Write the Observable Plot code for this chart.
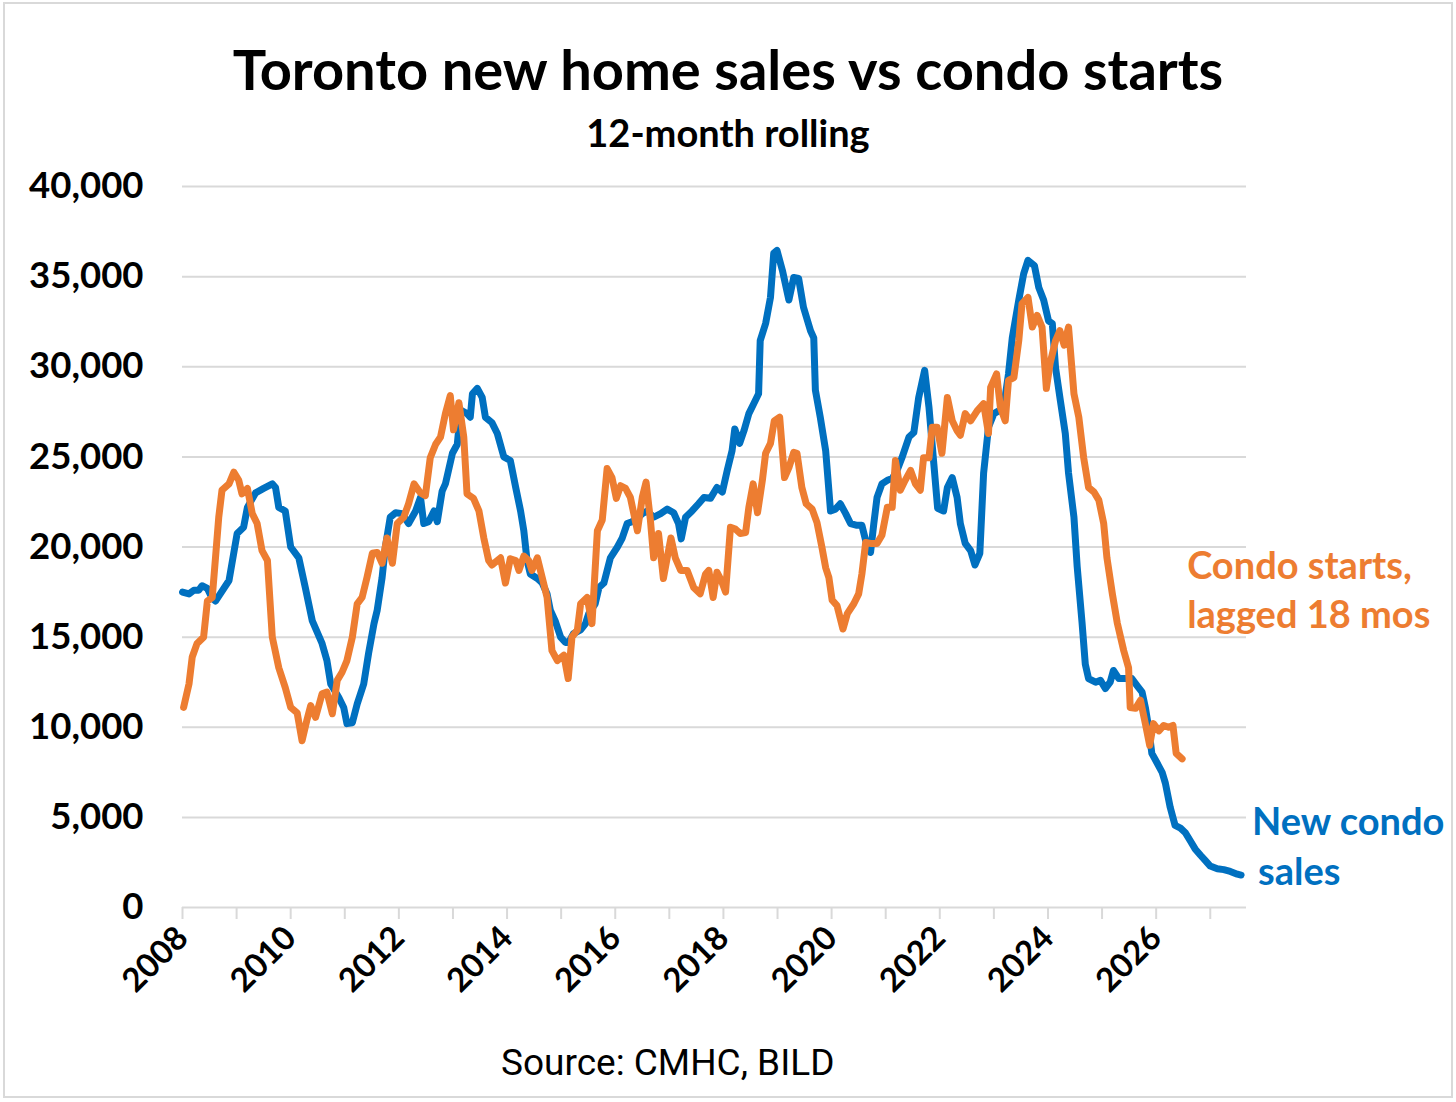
<!DOCTYPE html>
<html>
<head>
<meta charset="utf-8">
<script src="https://cdn.jsdelivr.net/npm/d3@7"></script>
<script src="https://cdn.jsdelivr.net/npm/@observablehq/plot@0.6"></script>
<style>
  html, body { margin: 0; padding: 0; background: #fff; }
  #page { position: relative; width: 1456px; height: 1102px; overflow: hidden; }
  #frame { position: absolute; left: 3px; top: 2px; width: 1450px; height: 1096px; box-sizing: border-box; border: 2px solid #d9d9d9; }
  #title { position: absolute; left: 0; top: 35px; width: 1456px; text-align: center; font: 700 56px Lato; line-height: 67px; color: #000; }
  #subtitle { position: absolute; left: 0; top: 109px; width: 1456px; text-align: center; font: 700 38px Lato; line-height: 46px; color: #000; }
  #chart { position: absolute; left: 0; top: 160px; }
  #caption { position: absolute; left: 501px; top: 1041px; font: 400 37px Roboto; line-height: 43px; color: #000; white-space: nowrap; }
</style>
</head>
<body>
<div id="page">
  <div id="frame"></div>
  <div id="title">Toronto new home sales vs condo starts</div>
  <div id="subtitle">12-month rolling</div>
  <div id="chart"></div>
  <div id="caption">Source: CMHC, BILD</div>
</div>
<script>
// New condo sales (12-month rolling)
const salesYear = [2008.00,2008.12,2008.21,2008.30,2008.36,2008.46,2008.55,2008.61,2008.86,2009.01,2009.13,2009.20,2009.35,2009.50,2009.66,2009.72,2009.78,2009.90,2010.00,2010.15,2010.27,2010.40,2010.58,2010.67,2010.74,2010.89,2010.98,2011.04,2011.14,2011.23,2011.35,2011.44,2011.54,2011.60,2011.69,2011.75,2011.84,2011.94,2012.06,2012.18,2012.31,2012.40,2012.46,2012.55,2012.65,2012.71,2012.80,2012.86,2012.99,2013.08,2013.14,2013.26,2013.32,2013.36,2013.45,2013.54,2013.60,2013.72,2013.82,2013.94,2014.06,2014.16,2014.25,2014.31,2014.37,2014.43,2014.56,2014.65,2014.74,2014.80,2014.89,2014.99,2015.08,2015.14,2015.23,2015.36,2015.45,2015.51,2015.63,2015.70,2015.79,2015.91,2016.04,2016.13,2016.22,2016.31,2016.41,2016.50,2016.59,2016.71,2016.84,2016.96,2017.08,2017.17,2017.22,2017.30,2017.42,2017.54,2017.64,2017.76,2017.88,2017.98,2018.07,2018.16,2018.21,2018.30,2018.38,2018.47,2018.56,2018.65,2018.68,2018.78,2018.87,2018.93,2018.99,2019.09,2019.21,2019.30,2019.39,2019.48,2019.61,2019.67,2019.70,2019.79,2019.89,2019.98,2020.07,2020.16,2020.26,2020.35,2020.47,2020.56,2020.63,2020.72,2020.78,2020.84,2020.93,2021.03,2021.12,2021.21,2021.30,2021.43,2021.52,2021.61,2021.72,2021.80,2021.89,2021.96,2022.07,2022.14,2022.23,2022.32,2022.38,2022.47,2022.57,2022.65,2022.74,2022.81,2022.90,2023.00,2023.09,2023.18,2023.27,2023.34,2023.46,2023.55,2023.63,2023.75,2023.83,2023.92,2024.01,2024.08,2024.14,2024.23,2024.32,2024.38,2024.48,2024.54,2024.63,2024.69,2024.75,2024.88,2024.97,2025.06,2025.15,2025.21,2025.31,2025.43,2025.55,2025.65,2025.74,2025.80,2025.86,2025.92,2026.02,2026.11,2026.17,2026.26,2026.35,2026.45,2026.54,2026.63,2026.72,2026.82,2026.91,2027.00,2027.13,2027.25,2027.37,2027.50,2027.57];
const salesValue = [17500,17400,17600,17600,17850,17700,17150,17000,18140,20750,21100,22200,23000,23250,23500,23300,22200,22000,20000,19400,17750,15900,14650,13700,12400,11650,11100,10200,10250,11300,12400,14100,15750,16500,18300,20000,21650,21900,21850,21300,22000,22750,21300,21400,22000,21400,23100,23500,25200,25700,27600,27400,27200,28500,28800,28300,27200,26900,26300,25000,24800,23300,22000,20900,19250,18500,18250,18000,17400,16500,15900,15000,14700,14700,15200,15400,15750,16300,16850,17750,18000,19400,20000,20500,21300,21400,21600,21850,22000,21650,21850,22100,21900,21300,20450,21650,22000,22400,22750,22700,23300,23050,24250,25350,26550,25750,26450,27400,27950,28500,31450,32400,33850,36300,36450,35350,33700,34950,34900,33300,32000,31600,28700,27200,25350,22000,22100,22400,21850,21300,21200,21200,20350,19700,21300,22750,23500,23700,23800,24250,24950,26100,26350,28300,29800,27750,24600,22150,22000,23300,23850,22750,21300,20200,19800,19000,19650,24100,26650,27400,27550,27750,29600,31600,33700,35150,35900,35600,34400,33700,32550,32400,29950,28100,26300,24100,21650,18900,15800,13500,12700,12500,12600,12150,12500,13150,12700,12700,12700,12300,11950,11100,10000,8550,8000,7500,6900,5550,4550,4400,4150,3700,3250,2900,2600,2300,2150,2100,2000,1850,1800];

// Condo starts, lagged 18 months (12-month rolling)
const startsYear = [2008.02,2008.12,2008.18,2008.27,2008.39,2008.46,2008.55,2008.61,2008.67,2008.73,2008.86,2008.95,2009.04,2009.10,2009.20,2009.29,2009.38,2009.47,2009.57,2009.66,2009.78,2009.90,2010.00,2010.12,2010.21,2010.30,2010.37,2010.46,2010.58,2010.67,2010.77,2010.86,2010.95,2011.04,2011.14,2011.23,2011.32,2011.41,2011.51,2011.60,2011.69,2011.78,2011.88,2011.97,2012.09,2012.18,2012.28,2012.40,2012.49,2012.58,2012.68,2012.77,2012.86,2012.95,2013.01,2013.11,2013.20,2013.26,2013.38,2013.48,2013.57,2013.66,2013.72,2013.88,2013.97,2014.06,2014.16,2014.22,2014.31,2014.40,2014.46,2014.56,2014.65,2014.74,2014.83,2014.93,2015.05,2015.13,2015.20,2015.30,2015.36,2015.48,2015.57,2015.67,2015.76,2015.85,2015.94,2016.02,2016.10,2016.19,2016.28,2016.41,2016.50,2016.57,2016.65,2016.71,2016.80,2016.89,2016.96,2017.03,2017.11,2017.21,2017.33,2017.45,2017.57,2017.67,2017.73,2017.81,2017.88,2017.96,2018.04,2018.13,2018.22,2018.31,2018.41,2018.47,2018.55,2018.63,2018.72,2018.78,2018.87,2018.94,2019.04,2019.13,2019.21,2019.30,2019.36,2019.45,2019.53,2019.64,2019.73,2019.82,2019.89,2019.95,2020.01,2020.10,2020.21,2020.29,2020.41,2020.50,2020.56,2020.63,2020.72,2020.84,2020.93,2021.03,2021.12,2021.18,2021.27,2021.36,2021.46,2021.55,2021.64,2021.70,2021.80,2021.86,2021.95,2022.04,2022.14,2022.23,2022.32,2022.38,2022.47,2022.57,2022.69,2022.81,2022.90,2022.94,2023.05,2023.12,2023.21,2023.27,2023.37,2023.46,2023.52,2023.63,2023.71,2023.80,2023.89,2023.97,2024.04,2024.14,2024.22,2024.30,2024.38,2024.48,2024.57,2024.66,2024.75,2024.85,2024.94,2025.03,2025.09,2025.19,2025.28,2025.40,2025.49,2025.52,2025.62,2025.71,2025.80,2025.88,2025.95,2026.05,2026.14,2026.23,2026.31,2026.37,2026.48];
const startsValue = [11100,12400,13900,14650,15000,17000,17200,19400,21650,23150,23500,24150,23700,22950,23250,21850,21300,19800,19250,15000,13300,12200,11100,10800,9250,10400,11200,10550,11850,11950,10750,12600,13050,13700,15000,16850,17200,18300,19650,19700,19100,20500,19100,21300,21650,22400,23500,23000,22850,24950,25700,26100,27400,28400,26500,28000,26100,22950,22700,22000,20500,19250,19000,19400,18000,19350,19250,18700,19500,19250,18700,19400,18300,17200,14250,13700,14000,12700,15000,15400,16850,17200,15750,20900,21500,24350,23850,22700,23400,23250,22750,20900,22750,23600,21500,19400,20750,18250,19400,20500,19400,18700,18700,17750,17400,18500,18700,17200,18600,18150,17500,21100,21000,20750,20800,22200,23500,21900,23700,25200,25750,27000,27200,23850,24400,25250,25200,23300,22400,22100,21350,20000,18850,18300,17050,16750,15450,16300,16850,17400,18500,20250,20200,20200,20650,22200,22200,24800,23150,23700,24250,23500,23150,24950,24950,26650,26650,25200,28300,27000,26450,26200,27400,27000,27550,27950,26300,28850,29600,27750,27000,29250,29400,31450,33500,33850,32200,32850,32200,28800,30200,31450,32000,31200,32200,28500,27200,24950,23300,23050,22600,21300,19400,17400,15800,14250,13300,11100,11050,11500,10200,9000,10200,9800,10100,10000,10100,8550,8250];

// Axis ticks
const xTicks = d3.range(2008, 2028);
const yTicks = d3.range(0, 40001, 5000);

const sales = salesYear.slice(0, Math.min(salesYear.length, salesValue.length)).map((x, i) => ({x, y: salesValue[i]}));
const starts = startsYear.slice(0, Math.min(startsYear.length, startsValue.length)).map((x, i) => ({x, y: startsValue[i]}));
const salesLast = sales[sales.length - 1];
const startsLast = starts[starts.length - 1];

const BLUE = "#0070C0", ORANGE = "#ED7D31", GRID = "#d9d9d9";

const chart = Plot.plot({
  width: 1456,
  height: 847,
  marginTop: 26,
  marginBottom: 100,
  marginLeft: 182,
  marginRight: 210,
  style: {fontFamily: "Lato", fontWeight: 700, color: "#000", background: "transparent", overflow: "visible"},
  x: {domain: [2008, 2027.67], label: null},
  y: {domain: [0, 40000], label: null},
  marks: [
    Plot.gridY(yTicks.filter(d => d > 0), {stroke: GRID, strokeOpacity: 1, strokeWidth: 2}),
    Plot.ruleY([0], {stroke: GRID, strokeWidth: 2}),
    Plot.axisY({ticks: yTicks, tickFormat: d3.format(","), tickSize: 0, tickPadding: 39, fontSize: 36.5, fontWeight: 700, fill: "#000", label: null}),
    Plot.axisX({ticks: xTicks, tickFormat: () => "", tickSize: 12, stroke: GRID, strokeWidth: 2, strokeOpacity: 1, label: null}),
    Plot.axisX({ticks: xTicks.filter(d => d % 2 === 0), tickFormat: d => String(d), tickSize: 0, tickPadding: 25, tickRotate: -45, fontSize: 33, fontWeight: 700, fill: "#000", label: null}),
    Plot.line(sales, {x: "x", y: "y", stroke: BLUE, strokeWidth: 7, strokeLinejoin: "round", strokeLinecap: "round"}),
    Plot.line(starts, {x: "x", y: "y", stroke: ORANGE, strokeWidth: 7, strokeLinejoin: "round", strokeLinecap: "round"}),
    Plot.text([startsLast], {x: "x", y: "y", text: () => "Condo starts,\nlagged 18 mos", dx: 5, dy: -171, textAnchor: "start", lineHeight: 1.3, fill: ORANGE, fontSize: 38, fontWeight: 700}),
    Plot.text([salesLast], {x: "x", y: "y", text: () => "New condo", dx: 11, dy: -52, textAnchor: "start", fill: BLUE, fontSize: 38, fontWeight: 700}),
    Plot.text([salesLast], {x: "x", y: "y", text: () => "sales", dx: 17, dy: -2, textAnchor: "start", fill: BLUE, fontSize: 38, fontWeight: 700})
  ]
});
document.getElementById("chart").appendChild(chart);
</script>
</body>
</html>
